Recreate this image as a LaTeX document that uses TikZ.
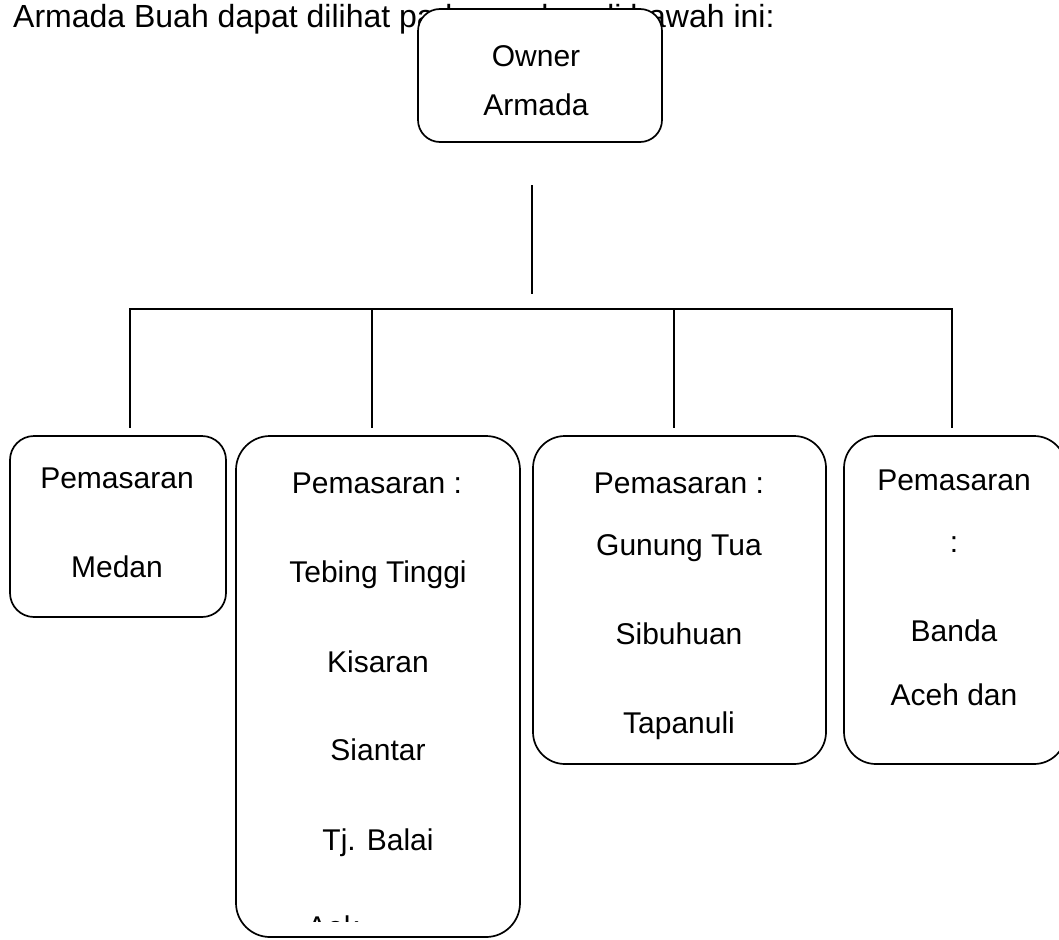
\documentclass[tikz,border=0pt]{standalone}
\usepackage{fontspec}
\setmainfont{Liberation Sans}
\begin{document}
\begin{tikzpicture}[x=1pt,y=-1pt,
  box/.style={draw=black,line width=1.7pt,fill=white,inner sep=0pt},
  lbl/.style={anchor=base,inner sep=0pt,font=\fontsize{30}{35}\selectfont},
  conn/.style={draw=black,line width=1.7pt}]
\useasboundingbox (0,0) rectangle (1059,939);
% heading text (partly hidden by the top box)
\node[anchor=base west,inner sep=0pt,font=\fontsize{32}{38}\selectfont] (head) at (13,28) {Armada Buah dapat dilihat pada gambar di bawah ini:};
% top box
\node[box,rounded corners=22pt,minimum width=244pt,minimum height=133pt] (own) at (540,75.5) {};
\node[lbl] (own1) at (536,67) {Owner};
\node[lbl] (own2) at (536,116) {Armada};
% connectors
\coordinate (v1) at (532,185);
\coordinate (v2) at (532,294);
\coordinate (hL) at (130,309);
\coordinate (hR) at (952,309);
\draw[conn] (v1) -- (v2);
\draw[conn,line cap=rect] (hL) -- (hR);
\coordinate (d1a) at (130,309); \coordinate (d1b) at (130,428);
\coordinate (d2a) at (372,309); \coordinate (d2b) at (372,428);
\coordinate (d3a) at (674,309); \coordinate (d3b) at (674,428);
\coordinate (d4a) at (952,309); \coordinate (d4b) at (952,428);
\draw[conn] (d1a) -- (d1b);
\draw[conn] (d2a) -- (d2b);
\draw[conn] (d3a) -- (d3b);
\draw[conn] (d4a) -- (d4b);
% box 1
\node[box,rounded corners=24pt,minimum width=216pt,minimum height=181pt] (b1) at (118,526.5) {};
\node[lbl] (b1t1) at (117,488) {Pemasaran};
\node[lbl] (b1t2) at (117,577) {Medan};
% box 2
\node[box,rounded corners=34pt,minimum width=284pt,minimum height=501pt] (b2) at (378,686.5) {};
\node[lbl] (b2t1) at (377,493) {Pemasaran :};
\node[lbl] (b2t2) at (378,582) {Tebing Tinggi};
\node[lbl] (b2t3) at (378,672) {Kisaran};
\node[lbl] (b2t4) at (378,760) {Siantar};
\node[lbl] (b2t5) at (378,850) {Tj. Balai};
\begin{scope}
\clip (240,900) rectangle (515,921);
\node[anchor=base west,inner sep=0pt,font=\fontsize{30}{35}\selectfont] (b2t6) at (307,937) {Aek};
\end{scope}
% box 3
\node[box,rounded corners=32pt,minimum width=293pt,minimum height=328pt] (b3) at (679.5,600) {};
\node[lbl] (b3t1) at (679,493) {Pemasaran :};
\node[lbl] (b3t2) at (679,555) {Gunung Tua};
\node[lbl] (b3t3) at (679,644) {Sibuhuan};
\node[lbl] (b3t4) at (679,733) {Tapanuli};
% box 4
\node[box,rounded corners=32pt,minimum width=222pt,minimum height=328pt] (b4) at (955,600) {};
\node[lbl] (b4t1) at (954,490) {Pemasaran};
\node[lbl] (b4t2) at (954,552) {:};
\node[lbl] (b4t3) at (954,641) {Banda};
\node[lbl] (b4t4) at (954,705) {Aceh dan};
\end{tikzpicture}
\end{document}
